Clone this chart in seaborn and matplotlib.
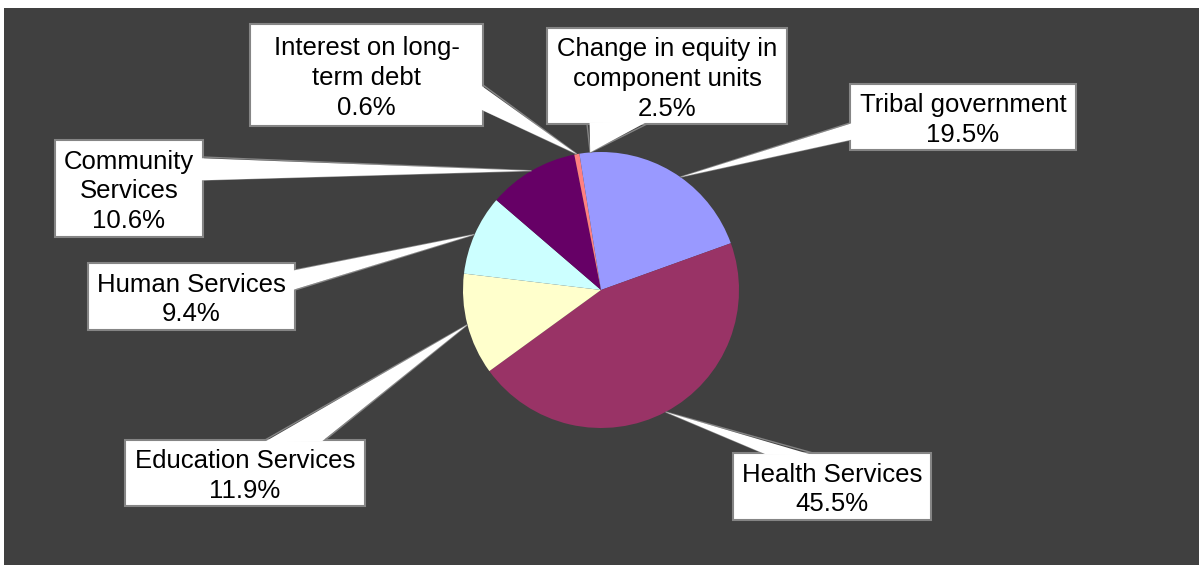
import numpy as np
import matplotlib
matplotlib.use("Agg")
import matplotlib.pyplot as plt
import seaborn as sns
from matplotlib.patches import Rectangle, Polygon

# Data
categories = ['Tribal government', 'Health Services', 'Education Services',
              'Human Services', 'Community Services', 'Interest on long-term debt',
              'Change in equity in component units']
shares = [19.5, 45.5, 11.9, 9.4, 10.6, 0.6, 2.5]
label_text = ['Tribal government', 'Health Services', 'Education Services',
              'Human Services', 'Community\nServices', 'Interest on long-\nterm debt',
              'Change in equity in\ncomponent units']
slice_colors = ['#9999FF', '#993366', '#FFFFCC', '#CCFFFF', '#660066', '#FF8080', '#9999FF']

sns.set_theme(style='white')
plt.rcParams['font.family'] = ['Liberation Sans', 'DejaVu Sans']

W, H = 1199, 565
fig = plt.figure(figsize=(W / 100, H / 100), dpi=100, facecolor='white')
ax = fig.add_axes([0, 0, 1, 1])

def fy(y):
    # pixel row (top-down) -> data y (bottom-up)
    return H - y

# dark plot area
ax.add_patch(Rectangle((4, 0), W - 4, H - 8, facecolor='#404040', edgecolor='none', zorder=0))

cx, cy, r = 601, fy(290), 138
wedges, _ = ax.pie(shares, colors=sns.color_palette(slice_colors), startangle=90,
                   counterclock=False, center=(cx, cy), radius=r,
                   wedgeprops=dict(linewidth=0))
for w in wedges:
    w.set_zorder(2)

# label boxes (x0, y0, x1, y1) in pixels, and callout base points
boxes = [(850, 84, 1076, 150), (733, 453, 931, 520), (125, 440, 365, 506),
         (88, 263, 295, 330), (55, 140, 203, 237), (250, 24, 483, 126),
         (547, 28, 787, 124)]
bases = [((850, 123), (850, 140)), ((763, 453), (813, 453)), ((265, 440), (325, 440)),
         ((295, 270), (295, 290)), ((203, 157), (203, 180)), ((483, 85), (483, 110)),
         ((587, 124), (647, 124))]

edge = '#858585'
for i, w in enumerate(wedges):
    x0, y0, x1, y1 = boxes[i]
    ax.add_patch(Rectangle((x0, fy(y1)), x1 - x0, y1 - y0, facecolor='white',
                           edgecolor=edge, linewidth=1.5, zorder=3))
    mid = np.deg2rad((w.theta1 + w.theta2) / 2)
    tip = (cx + r * np.cos(mid), cy + r * np.sin(mid))
    (bx1, by1), (bx2, by2) = bases[i]
    b1 = (bx1, fy(by1))
    b2 = (bx2, fy(by2))
    # push the base slightly into the box so the border is hidden there
    bcx, bcy = (x0 + x1) / 2, fy((y0 + y1) / 2)
    def inward(p):
        d = np.array([bcx - p[0], bcy - p[1]])
        d = d / np.linalg.norm(d)
        return (p[0] + 3 * d[0], p[1] + 3 * d[1])
    ax.add_patch(Polygon([inward(b1), tip, inward(b2)], closed=True, facecolor='white',
                         edgecolor='none', zorder=4))
    ax.plot([b1[0], tip[0], b2[0]], [b1[1], tip[1], b2[1]], color=edge, lw=1.0,
            zorder=3.5, solid_joinstyle='miter')
    ax.text((x0 + x1) / 2, fy((y0 + y1) / 2 + 3), f'{label_text[i]}\n{shares[i]:.1f}%',
            ha='center', va='center', multialignment='center', fontsize=18.5,
            linespacing=1.3, color='black', zorder=5)

ax.set_xlim(0, W)
ax.set_ylim(0, H)
ax.set_aspect('auto')
ax.axis('off')

fig.savefig('out.png', dpi=100, facecolor='white')
